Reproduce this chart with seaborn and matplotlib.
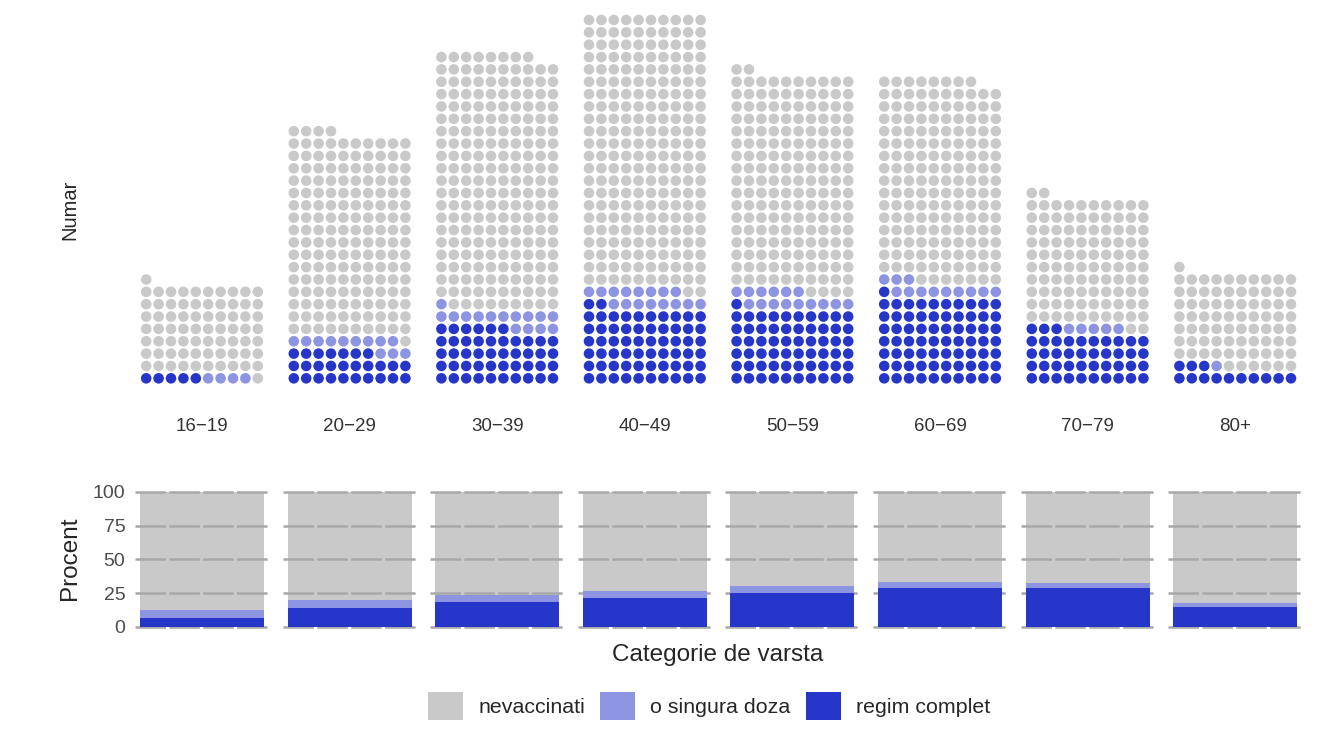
import numpy as np
import pandas as pd
import matplotlib.pyplot as plt
from matplotlib.patches import Patch
import seaborn as sns

# grupe de varsta
grupe = ['16−19', '20−29', '30−39', '40−49', '50−59', '60−69', '70−79', '80+']

# waffle: cate puncte are fiecare grupa
puncte_total = [81, 204, 268, 300, 252, 248, 152, 91]
puncte_complet = [5, 27, 46, 62, 61, 71, 43, 13]
puncte_doza = [4, 12, 15, 16, 15, 12, 5, 1]

# procente din graficul de jos
pct_complet = [6.2, 13.6, 18.5, 21.0, 25.0, 29.0, 28.4, 14.8]
pct_doza = [6.2, 6.2, 5.0, 5.5, 5.5, 4.5, 3.7, 2.5]

categorii = ['nevaccinati', 'o singura doza', 'regim complet']
culori = {'nevaccinati': '#C9C9C9', 'o singura doza': '#8D95E3', 'regim complet': '#2536C9'}

sns.set_style('white')
plt.rcParams['font.family'] = ['Liberation Sans', 'DejaVu Sans']

W, H = 1320, 743
fig = plt.figure(figsize=(W / 100, H / 100), dpi=100)


def cutie(x0, y0, x1, y1):
    # coordonate in pixeli (origine sus-stanga) -> fractiune din figura
    return [x0 / W, 1 - y1 / H, (x1 - x0) / W, (y1 - y0) / H]


for i, g in enumerate(grupe):
    stanga = 140 + 147.6 * i

    # ---------- waffle ----------
    idx = np.arange(puncte_total[i])
    cat = np.where(idx < puncte_complet[i], 'regim complet',
                   np.where(idx < puncte_complet[i] + puncte_doza[i], 'o singura doza', 'nevaccinati'))
    df = pd.DataFrame({'col': idx % 10, 'rand': idx // 10, 'cat': cat})

    ax = fig.add_axes(cutie(stanga, 13.8, stanga + 124, 384.5))
    sns.scatterplot(data=df, x='col', y='rand', hue='cat', palette=culori,
                    s=58, linewidth=0, legend=False, ax=ax)
    ax.set_xlim(-0.5, 9.5)
    ax.set_ylim(-0.5, 29.5)
    ax.set_xticks([4.5])
    ax.set_xticklabels([g])
    ax.set_yticks([])
    ax.tick_params(axis='x', length=0, pad=24, labelsize=13.5, labelcolor='#333333')
    ax.set_xlabel('')
    ax.set_ylabel('')
    sns.despine(ax=ax, left=True, bottom=True)

    # ---------- bare procent ----------
    bx = fig.add_axes(cutie(stanga - 5, 485, stanga + 130, 633.5))
    sns.barplot(x=[g], y=[100], color=culori['nevaccinati'], width=1, errorbar=None,
                saturation=1, linewidth=0, ax=bx)
    sns.barplot(x=[g], y=[pct_complet[i] + pct_doza[i]], color=culori['o singura doza'],
                width=1, errorbar=None, saturation=1, linewidth=0, ax=bx)
    sns.barplot(x=[g], y=[pct_complet[i]], color=culori['regim complet'],
                width=1, errorbar=None, saturation=1, linewidth=0, ax=bx)
    bx.patches[0].set_zorder(1)
    for p in bx.patches[1:]:
        p.set_zorder(3)
    for v in [0, 25, 50, 75, 100]:
        bx.axhline(v, color='#A8A8A8', lw=1.8, ls=(0, (12.2, 1.35)), zorder=2)
    bx.set_xlim(-0.5403, 0.5484)
    bx.set_ylim(-5, 105)
    bx.set_xticks([])
    bx.set_yticks([0, 25, 50, 75, 100])
    if i == 0:
        bx.tick_params(axis='y', length=0, pad=7, labelsize=14, labelcolor='#4D4D4D')
    else:
        bx.set_yticklabels([])
        bx.tick_params(axis='y', length=0)
    bx.set_xlabel('')
    bx.set_ylabel('')
    sns.despine(ax=bx, left=True, bottom=True)

fig.text(70 / W, 1 - 210 / H, 'Numar', rotation=90, ha='center', va='center', fontsize=14.5)
fig.text(70 / W, 1 - 558 / H, 'Procent', rotation=90, ha='center', va='center', fontsize=17.5)
fig.text(718 / W, 1 - 655 / H, 'Categorie de varsta', ha='center', va='center', fontsize=17.5)

handles = [Patch(facecolor=culori[c], edgecolor='none') for c in categorii]
fig.legend(handles, categorii, ncol=3, loc='center', bbox_to_anchor=(709 / W, 1 - 706 / H),
           frameon=False, fontsize=15.4, handlelength=1.65, handleheight=1.65,
           handletextpad=0.7, columnspacing=0.7)

fig.savefig('out.png', dpi=100)
